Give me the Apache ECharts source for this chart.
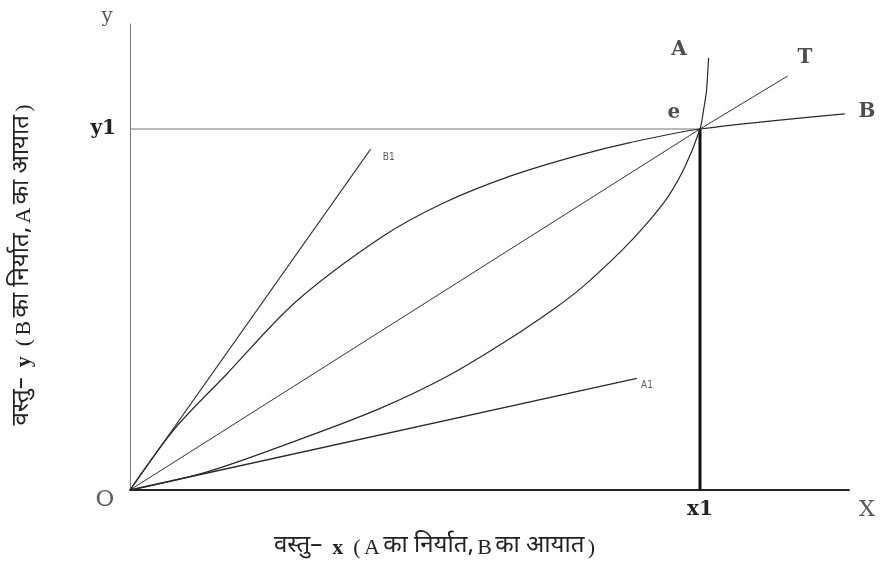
<!DOCTYPE html>
<html>
<head>
<meta charset="utf-8">
<script src="https://cdn.jsdelivr.net/npm/echarts@6/dist/echarts.min.js"></script>
<style>
  html, body { margin: 0; background: #fff; }
  #chart { width: 886px; height: 568px; }
</style>
</head>
<body>
<div id="chart"></div>
<script>
// offer curves and price rays, x1 = 100, y1 = 100
const offerB = [[0, 0], [7.8, 16.9], [16.9, 32.0], [29.0, 52.0], [44.3, 70.2], [55.0, 79.5], [66.8, 87.0], [78.2, 92.5], [87.9, 96.3], [100, 100], [125.4, 104.2]];
const offerA = [[0, 0], [13.7, 5.1], [30.6, 14.5], [44.3, 22.9], [56.0, 31.8], [66.4, 41.7], [74.3, 50.1], [79.2, 56.0], [86.3, 66.4], [90.5, 73.5], [94.5, 81.5], [97.5, 90.0], [100, 100], [100.6, 105], [101.1, 110], [101.3, 114], [101.5, 119.7]];
const rayOT = [[0, 0], [100, 100], [115.4, 114.7]];
const rayB1 = [[0, 0], [42.2, 94.4]];
const rayA1 = [[0, 0], [88.9, 30.9]];
const y1Line = [[0, 100], [100, 100]];
const x1Line = [[100, 0], [100, 100]];

const xLabels = { 100: "x1" };
const yLabels = { 100: "y1" };
const pointNames = ["y", "O", "X", "A", "T", "e", "B", "B1", "A1"];
const pointAt = [[-4.0, 131.0], [-4.4, -2.8], [129.3, -5.5], [96.3, 121.9], [118.4, 119.7], [95.4, 104.4], [129.3, 104.7], [45.4, 92.0], [90.7, 29.1]];

const serif = "'DejaVu Serif', 'Liberation Serif', serif";
const deva = "'Noto Sans Devanagari', 'Lohit Devanagari', 'FreeSans', 'Noto Sans', sans-serif";

const chart = echarts.init(document.getElementById("chart"));

const curve = (data, color, width, smooth) => ({
  type: "line",
  data: data,
  smooth: smooth,
  symbol: "none",
  silent: true,
  lineStyle: { color: color, width: width },
});

const labelStyle = (name) => {
  if (name === "B1" || name === "A1") {
    return { fontFamily: "'Liberation Sans Narrow', 'DejaVu Sans Condensed', sans-serif", fontSize: 10, color: "#333" };
  }
  if (name === "X" || name === "O") {
    return { fontFamily: serif, fontSize: 23, color: "#333" };
  }
  if (name === "y") {
    return { fontFamily: serif, fontSize: 20, color: "#333" };
  }
  return { fontFamily: serif, fontSize: 20, fontWeight: "bold", color: "#222" };
};

const titleRich = {
  d: { fontFamily: deva, fontSize: 24, color: "#222" },
  l: { fontFamily: "'Liberation Serif', serif", fontSize: 22, fontWeight: "bold", color: "#222" },
  r: { fontFamily: "'Liberation Serif', serif", fontSize: 22, color: "#222" },
};

const option = {
  animation: false,
  grid: { left: 130, top: 24, right: 37, bottom: 78 },
  xAxis: {
    type: "value",
    min: 0,
    max: 126.14,
    interval: 100,
    splitLine: { show: false },
    axisTick: { show: false },
    axisLine: { lineStyle: { color: "#222", width: 2 } },
    axisLabel: {
      formatter: (v) => xLabels[v] || "",
      showMaxLabel: false,
      margin: 10,
      fontFamily: serif,
      fontSize: 20,
      fontWeight: "bold",
      color: "#222",
    },
    name: "{d|वस्तु–}   {l|x}   {r|(} {r|A} {d|का निर्यात,} {r|B} {d|का आयात} {r|)}",
    nameLocation: "middle",
    nameGap: 46,
    nameTextStyle: { padding: [0, 110, 0, 0], rich: titleRich },
  },
  yAxis: {
    type: "value",
    min: 0,
    max: 129.09,
    interval: 100,
    splitLine: { show: false },
    axisTick: { show: false },
    axisLine: { lineStyle: { color: "#777", width: 1 } },
    axisLabel: {
      formatter: (v) => yLabels[v] || "",
      showMaxLabel: false,
      margin: 14,
      fontFamily: serif,
      fontSize: 20,
      fontWeight: "bold",
      color: "#222",
    },
    name: "{d|वस्तु–}   {l|y}   {r|(} {r|B} {d|का निर्यात,} {r|A} {d|का आयात} {r|)}",
    nameLocation: "middle",
    nameGap: 94,
    nameRotate: 90,
    nameTextStyle: { padding: [0, 16, 0, 0], rich: titleRich },
  },
  series: [
    curve(y1Line, "#777", 1, false),
    curve(x1Line, "#111", 3, false),
    curve(rayB1, "#2a2a2a", 1.2, false),
    curve(rayA1, "#2a2a2a", 1.3, false),
    curve(rayOT, "#333", 1, false),
    curve(offerB, "#2a2a2a", 1.2, 0.3),
    curve(offerA, "#2a2a2a", 1.2, 0.3),
    {
      type: "scatter",
      clip: false,
      silent: true,
      symbolSize: 0,
      data: pointNames.map((n, i) => ({
        name: n,
        value: pointAt[i],
        label: Object.assign({ show: true, position: "inside", formatter: "{b}" }, labelStyle(n)),
      })),
    },
  ],
};

chart.setOption(option);
</script>
</body>
</html>
